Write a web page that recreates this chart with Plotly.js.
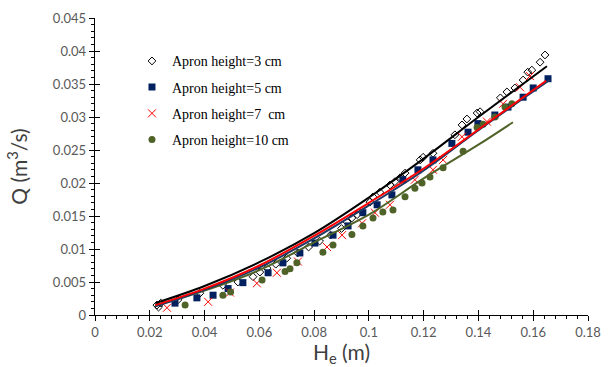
<!DOCTYPE html>
<html><head><meta charset="utf-8">
<script src="https://cdn.plot.ly/plotly-3.0.1.min.js"></script>
<style>html,body{margin:0;padding:0;background:#fff}#chart{width:608px;height:367px}</style>
</head><body><div id="chart"></div>
<script>
// Apron height = 3 cm (open diamonds)
const he3 = [0.0226,0.0232,0.0240,0.0303,0.0383,0.0467,0.0522,0.0577,0.0602,0.0628,0.066,0.070,0.074,0.078,0.082,0.086,0.090,0.092,0.0938,0.0957,0.1004,0.1015,0.104,0.1077,0.1095,0.1114,0.1132,0.1187,0.1198,0.1234,0.1314,0.134,0.1358,0.1395,0.1406,0.148,0.1504,0.1533,0.1563,0.158,0.1595,0.1625,0.1643];
const q3  = [0.0015,0.0012,0.0018,0.0023,0.0033,0.0045,0.0050,0.0058,0.0065,0.0071,0.0077,0.0086,0.0094,0.0103,0.0112,0.0121,0.0131,0.0141,0.0147,0.0152,0.0171,0.0179,0.0186,0.0197,0.0202,0.0208,0.0215,0.0235,0.0239,0.0245,0.0273,0.0288,0.0297,0.0306,0.0308,0.0329,0.0338,0.0344,0.0356,0.0368,0.0371,0.0383,0.0394];
// Apron height = 5 cm (squares)
const he5 = [0.0292,0.0372,0.0431,0.0486,0.0540,0.0632,0.0686,0.0748,0.0803,0.0869,0.0924,0.0978,0.1030,0.1084,0.1124,0.1179,0.1234,0.1303,0.1362,0.1398,0.1460,0.1508,0.1563,0.1600,0.1654];
const q5  = [0.0018,0.0026,0.0030,0.0040,0.0049,0.0064,0.0079,0.0094,0.0109,0.0121,0.0135,0.0155,0.0167,0.0182,0.0205,0.0220,0.0235,0.0260,0.0277,0.0290,0.0303,0.0315,0.0330,0.0344,0.0358];
// Apron height = 7 cm (crosses)
const he7 = [0.0263,0.0413,0.0493,0.0591,0.0664,0.0741,0.0847,0.0902,0.0975,0.1022,0.1077,0.1168,0.1234,0.1271,0.1340,0.1431,0.1490,0.1552,0.1588];
const q7  = [0.0011,0.0020,0.0034,0.0048,0.0064,0.0081,0.0103,0.0121,0.0139,0.0155,0.0167,0.0205,0.0220,0.0235,0.0270,0.0293,0.0320,0.0345,0.0362];
// Apron height = 10 cm (circles)
const he10 = [0.0329,0.0467,0.0495,0.0610,0.0694,0.0712,0.0737,0.0832,0.0869,0.0938,0.0978,0.1015,0.1051,0.1088,0.1132,0.1168,0.1194,0.1223,0.1271,0.1344,0.1395,0.1417,0.1460,0.1497,0.1522];
const q10  = [0.0015,0.0030,0.0035,0.0053,0.0066,0.0070,0.0079,0.0095,0.0106,0.0122,0.0135,0.0147,0.0156,0.0159,0.0179,0.0192,0.0200,0.0209,0.0223,0.0248,0.0284,0.0289,0.0300,0.0315,0.0320];
// Fitted trend lines
const fitX3 = [0.022,0.04,0.06,0.08,0.10,0.12,0.14,0.165];
const fitQ3 = [0.0018,0.0044,0.0080,0.0124,0.0178,0.0237,0.0300,0.0377];
const fitX5 = [0.022,0.04,0.06,0.08,0.10,0.12,0.14,0.166];
const fitQ5 = [0.0013,0.0038,0.0072,0.0116,0.0166,0.0219,0.0280,0.0356];
const fitX7 = [0.022,0.04,0.06,0.08,0.10,0.12,0.14,0.1647];
const fitQ7 = [0.0015,0.0040,0.0075,0.0120,0.0170,0.0222,0.0281,0.0355];
const fitX10 = [0.022,0.04,0.06,0.08,0.10,0.12,0.14,0.1526];
const fitQ10 = [0.0014,0.0037,0.0068,0.0110,0.0152,0.0207,0.0258,0.0292];
const names = ["Apron height=3 cm","Apron height=5 cm","Apron height=7  cm","Apron height=10 cm"];
const xTicks = [0,0.02,0.04,0.06,0.08,0.1,0.12,0.14,0.16,0.18];
const yTicks = [0,0.005,0.01,0.015,0.02,0.025,0.03,0.035,0.04,0.045];

const cBlue = '#1F3864', cGreen = '#4F6228', cRed = '#FF0000';
const traces = [
  {x:he3,y:q3,name:names[0],mode:'markers',legendgroup:'a',marker:{symbol:'diamond-open',size:6,color:'#000',line:{width:1}}},
  {x:he5,y:q5,name:names[1],mode:'markers',legendgroup:'b',marker:{symbol:'square',size:7,color:'#002060'}},
  {x:he7,y:q7,name:names[2],mode:'markers',legendgroup:'c',marker:{symbol:'x-thin-open',size:8,color:cRed,line:{width:1,color:cRed}}},
  {x:he10,y:q10,name:names[3],mode:'markers',legendgroup:'d',marker:{symbol:'circle',size:7,color:cGreen}},
  {x:fitX10,y:fitQ10,mode:'lines',line:{color:cGreen,width:2,shape:'spline'},showlegend:false,hoverinfo:'skip'},
  {x:fitX5,y:fitQ5,mode:'lines',line:{color:cBlue,width:2,shape:'spline'},showlegend:false,hoverinfo:'skip'},
  {x:fitX7,y:fitQ7,mode:'lines',line:{color:cRed,width:2,shape:'spline'},showlegend:false,hoverinfo:'skip'},
  {x:fitX3,y:fitQ3,mode:'lines',line:{color:'#000',width:2,shape:'spline'},showlegend:false,hoverinfo:'skip'},
  {x:[null],y:[null],xaxis:'x2',yaxis:'y2',showlegend:false,hoverinfo:'skip'}
];
const tickFont = {family:'Lato, "Open Sans", sans-serif',size:13,color:'#595959'};
const titleFont = {family:'Lato, "Open Sans", sans-serif',size:21,color:'#404040'};
const layout = {
  width:608,height:367,
  margin:{l:95,r:20,t:18,b:52},
  paper_bgcolor:'#fff',plot_bgcolor:'#fff',
  showlegend:true,
  legend:{x:0.075,y:0.908,xanchor:'left',yanchor:'top',bgcolor:'rgba(0,0,0,0)',
    font:{family:'"Liberation Serif", "Times New Roman", serif',size:14,color:'#000'},
    tracegroupgap:5,itemwidth:30},
  xaxis:{range:[0,0.18],tickvals:xTicks,ticktext:xTicks.map(String),showgrid:false,zeroline:false,
    showline:true,linecolor:'#000',linewidth:1.3,ticks:'outside',ticklen:5,tickcolor:'#000',
    minor:{dtick:0.004,ticks:'outside',ticklen:3,tickcolor:'#000',showgrid:false},
    tickfont:tickFont,
    title:{text:'H<sub>e</sub> (m)',font:titleFont,standoff:4}},
  yaxis:{range:[0,0.045],tickvals:yTicks,ticktext:yTicks.map(String),showgrid:false,zeroline:false,
    showline:true,linecolor:'#000',linewidth:1.3,ticks:'outside',ticklen:5,tickcolor:'#000',
    minor:{dtick:0.001,ticks:'outside',ticklen:3,tickcolor:'#000',showgrid:false},
    tickfont:tickFont,
    title:{text:'Q (m<sup>3</sup>/s)',font:titleFont,standoff:19}},
  xaxis2:{overlaying:'x',matches:'x',range:[0,0.18],tickvals:xTicks,ticks:'inside',ticklen:5,tickcolor:'#000',
    showticklabels:false,showgrid:false,zeroline:false,showline:false,anchor:'y2'},
  yaxis2:{overlaying:'y',matches:'y',range:[0,0.045],tickvals:yTicks,ticks:'inside',ticklen:5,tickcolor:'#000',
    showticklabels:false,showgrid:false,zeroline:false,showline:false,anchor:'x2'}
};
Plotly.newPlot('chart',traces,layout,{displayModeBar:false,staticPlot:true});
</script></body></html>
